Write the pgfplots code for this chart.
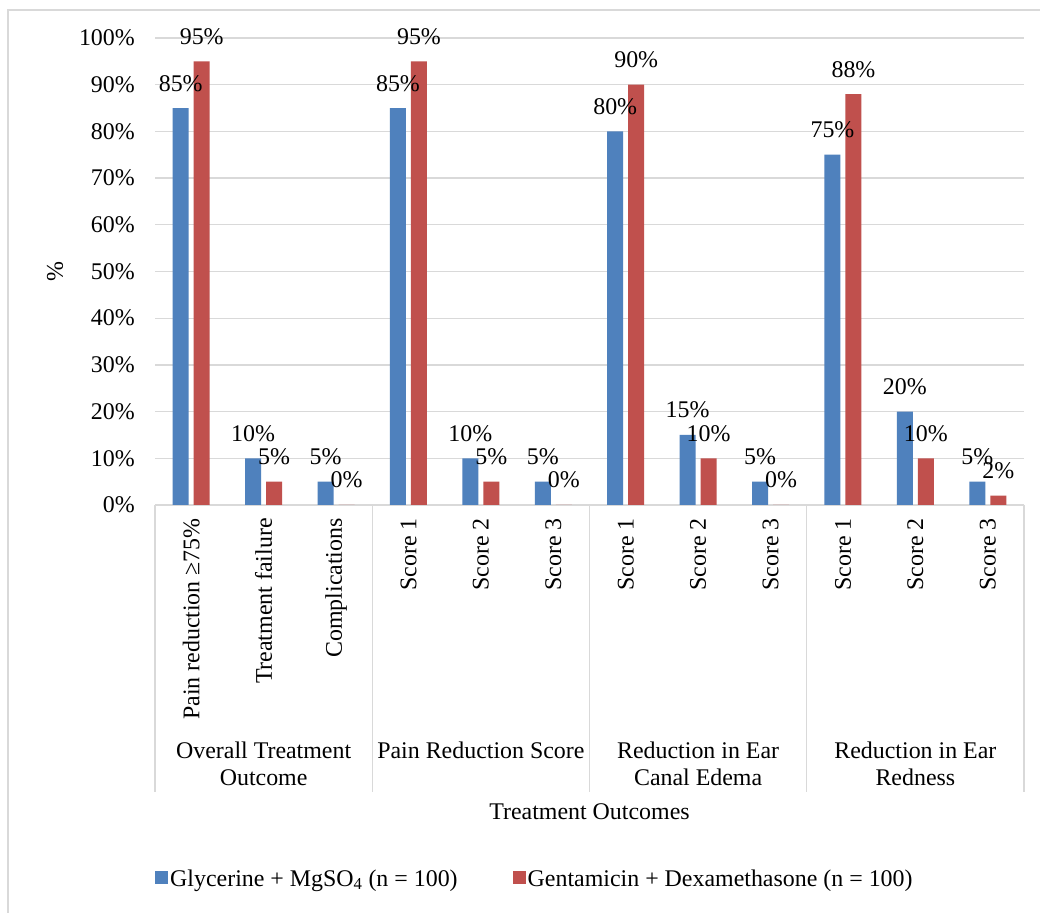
\documentclass[border=0pt]{standalone}
\usepackage{pgfplots}
\pgfplotsset{compat=1.18}
\usepackage{fontspec}
\setmainfont{Liberation Serif}
\definecolor{cblue}{HTML}{4F81BD}
\definecolor{cred}{HTML}{C0504D}
\definecolor{cgrid}{HTML}{D9D9D9}
\newcommand{\fs}{\fontsize{24}{27}\selectfont}
\begin{document}
\begin{tikzpicture}[x=1bp,y=1bp]
\useasboundingbox (0,0) rectangle (1040,913);
\fill[white] (0,0) rectangle (1040,913);
\draw[cgrid, line width=1.5bp] (8,0) -- (8,903) -- (1040,903);
\begin{axis}[
  at={(155bp,408bp)}, anchor=south west,
  scale only axis, width=869bp, height=467bp,
  xmin=-0.5, xmax=11.5, ymin=0, ymax=100,
  ybar=5bp, bar width=16bp,
  axis line style={draw=none},
  major tick length=0pt,
  ymajorgrids, grid style={cgrid, line width=1.3bp},
  ytick={0,10,...,100},
  yticklabels={0\%,10\%,20\%,30\%,40\%,50\%,60\%,70\%,80\%,90\%,100\%},
  yticklabel style={font=\fs, inner sep=0pt, xshift=-20bp, anchor=east},
  xtick={0,...,11},
  xticklabels={Pain reduction ≥75\%, Treatment failure, Complications, Score 1, Score 2, Score 3, Score 1, Score 2, Score 3, Score 1, Score 2, Score 3},
  xticklabel style={rotate=90, anchor=east, inner sep=0pt, font=\fs, xshift=-13bp},
  nodes near coords={\pgfmathprintnumber[assume math mode=true]{\pgfplotspointmeta}\%},
  every node near coord/.append style={font=\fs, anchor=base, yshift=17bp, inner sep=0pt},
  clip=false,
  legend style={at={(axis description cs:0,-0.80)}, anchor=west, draw=none, fill=none, inner sep=0pt, legend columns=2, font=\fs,
    /tikz/every even column/.append style={column sep=53bp},
    nodes={inner sep=2bp}},
  legend image code/.code={\fill (0bp,-5bp) rectangle (13bp,8bp);},
]
\addplot[fill=cblue, draw=none] coordinates {(0,85) (1,10) (2,5) (3,85) (4,10) (5,5) (6,80) (7,15) (8,5) (9,75) (10,20) (11,5)};
\addplot[fill=cred, draw=none] coordinates {(0,95) (1,5) (2,0) (3,95) (4,5) (5,0) (6,90) (7,10) (8,0) (9,88) (10,10) (11,2)};
\legend{Glycerine + MgSO\textsubscript{4} (n = 100), Gentamicin + Dexamethasone (n = 100)}
\pgfplotsinvokeforeach{-0.5,2.5,5.5,8.5,11.5}{
  \draw[cgrid, line width=1.3bp] (axis cs:#1,0) -- ([yshift=-287bp]axis cs:#1,0);
}
\node[font=\fs, align=center, anchor=north, inner sep=0pt] at ([yshift=-237bp]axis cs:1,0) {Overall Treatment\\Outcome};
\node[font=\fs, align=center, anchor=north, inner sep=0pt] at ([yshift=-237bp]axis cs:4,0) {Pain Reduction Score};
\node[font=\fs, align=center, anchor=north, inner sep=0pt] at ([yshift=-237bp]axis cs:7,0) {Reduction in Ear\\Canal Edema};
\node[font=\fs, align=center, anchor=north, inner sep=0pt] at ([yshift=-237bp]axis cs:10,0) {Reduction in Ear\\Redness};
\node[font=\fs, anchor=north, inner sep=0pt] at ([yshift=-298bp]rel axis cs:0.5,0) {Treatment Outcomes};
\node[font=\fs, rotate=90, inner sep=0pt] at ([xshift=-100bp]rel axis cs:0,0.5) {\%};
\end{axis}
\end{tikzpicture}
\end{document}
